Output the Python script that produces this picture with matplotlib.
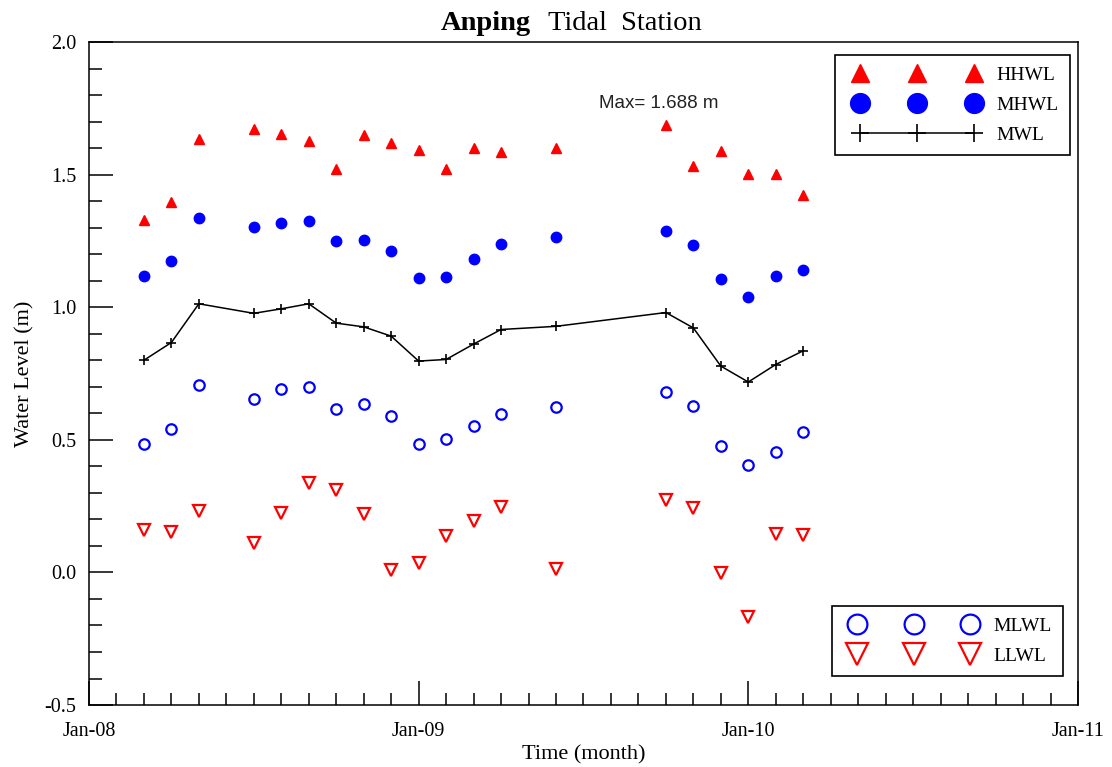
import matplotlib
matplotlib.use("Agg")
import matplotlib.pyplot as plt
from matplotlib.lines import Line2D
from matplotlib.legend_handler import HandlerLine2D
from matplotlib.ticker import MultipleLocator, FixedLocator, FixedFormatter, FormatStrFormatter

plt.rcParams['font.family'] = ['Liberation Serif', 'DejaVu Serif']
plt.rcParams['axes.unicode_minus'] = False

# Месяцы наблюдений (год, месяц)
months = [(2008, 3), (2008, 4), (2008, 5), (2008, 7), (2008, 8), (2008, 9),
          (2008, 10), (2008, 11), (2008, 12), (2009, 1), (2009, 2), (2009, 3),
          (2009, 4), (2009, 6), (2009, 10), (2009, 11), (2009, 12), (2010, 1),
          (2010, 2), (2010, 3)]

hhwl = [1.330, 1.395, 1.636, 1.671, 1.655, 1.625, 1.523, 1.648, 1.618, 1.594,
        1.523, 1.601, 1.584, 1.601, 1.688, 1.534, 1.588, 1.504, 1.501, 1.425]
mhwl = [1.118, 1.174, 1.338, 1.303, 1.317, 1.325, 1.248, 1.253, 1.211, 1.111,
        1.113, 1.180, 1.240, 1.264, 1.287, 1.235, 1.105, 1.037, 1.116, 1.140]
mwl = [0.800, 0.867, 1.013, 0.977, 0.994, 1.013, 0.940, 0.926, 0.891, 0.797,
       0.803, 0.861, 0.916, 0.928, 0.980, 0.922, 0.778, 0.718, 0.784, 0.836]
mlwl = [0.484, 0.542, 0.706, 0.655, 0.692, 0.701, 0.615, 0.635, 0.590, 0.485,
        0.502, 0.552, 0.597, 0.625, 0.681, 0.628, 0.478, 0.405, 0.454, 0.528]
llwl = [0.160, 0.153, 0.231, 0.110, 0.223, 0.336, 0.311, 0.220, 0.009, 0.034,
        0.137, 0.193, 0.248, 0.014, 0.273, 0.244, -0.003, -0.169, 0.145, 0.141]

year_labels = ['Jan-08', 'Jan-09', 'Jan-10', 'Jan-11']

# Номер месяца от Jan-08
x = [(y - 2008) * 12 + (m - 1) for y, m in months]

fig = plt.figure(figsize=(11.12, 7.67), dpi=100)
ax = fig.add_axes([0.080, 0.0808, 0.8894, 0.8644])

l1, = ax.plot(x, hhwl, '^', color='red', ms=7, mec='red', ls='none')
l2, = ax.plot(x, mhwl, 'o', color='blue', ms=7.5, mec='blue', ls='none')
l3, = ax.plot(x, mwl, '-+', color='black', lw=1.1, ms=7, mew=1.2)
l4, = ax.plot(x, mlwl, 'o', mfc='none', mec='blue', ms=7.5, mew=1.6, ls='none')
l5, = ax.plot(x, llwl, 'v', mfc='none', mec='red', ms=8, mew=1.6, ls='none')

# Подпись максимума
i_max = hhwl.index(max(hhwl))
ax.text(x[i_max] - 0.25, hhwl[i_max] + 0.08, 'Max= %.3f m' % hhwl[i_max],
        family='Liberation Sans', fontsize=13.5, color='#222222',
        ha='center', va='center')

ax.set_xlim(0, 36)
ax.set_ylim(-0.5, 2.0)

ax.xaxis.set_major_locator(FixedLocator([0, 12, 24, 36]))
ax.xaxis.set_major_formatter(FixedFormatter(year_labels))
ax.xaxis.set_minor_locator(MultipleLocator(1))
ax.yaxis.set_major_locator(MultipleLocator(0.5))
ax.yaxis.set_minor_locator(MultipleLocator(0.1))
ax.yaxis.set_major_formatter(FormatStrFormatter('%.1f'))

ax.tick_params(which='both', direction='in', top=False, right=False, width=1.1)
ax.tick_params(which='major', length=17.5, labelsize=14.5)
ax.tick_params(axis='y', which='major', pad=9)
ax.tick_params(axis='x', which='major', pad=12)
ax.tick_params(which='minor', length=9)
for s in ax.spines.values():
    s.set_linewidth(1.1)

ax.set_xlabel('Time (month)', fontsize=16, labelpad=3)
ax.set_ylabel('Water Level (m)', fontsize=16, labelpad=7)

fig.text(531 / 1112, 1 - 30 / 767, 'Anping', fontsize=20.5, fontweight='bold',
         ha='right', va='baseline')
fig.text(548 / 1112, 1 - 30 / 767, 'Tidal  Station', fontsize=20.5,
         ha='left', va='baseline')

# Маркеры в легенде с отступом от края
hmap = {Line2D: HandlerLine2D(marker_pad=0.72)}
leg_kw = dict(numpoints=3, markerscale=1.9, fontsize=14, handlelength=7.27,
              handletextpad=0.46, borderpad=0.58, labelspacing=0.64,
              borderaxespad=0, fancybox=False, framealpha=1,
              edgecolor='black', handler_map=hmap)
leg1 = ax.legend([l1, l2, l3], ['HHWL', 'MHWL', 'MWL'], loc='upper right',
                 bbox_to_anchor=(0.9919, 0.9804), **leg_kw)
leg1.get_frame().set_linewidth(1.2)
ax.add_artist(leg1)
leg2 = ax.legend([l4, l5], ['MLWL', 'LLWL'], loc='lower right',
                 bbox_to_anchor=(0.9848, 0.0437), **leg_kw)
leg2.get_frame().set_linewidth(1.2)

fig.savefig('out.png', dpi=100)
